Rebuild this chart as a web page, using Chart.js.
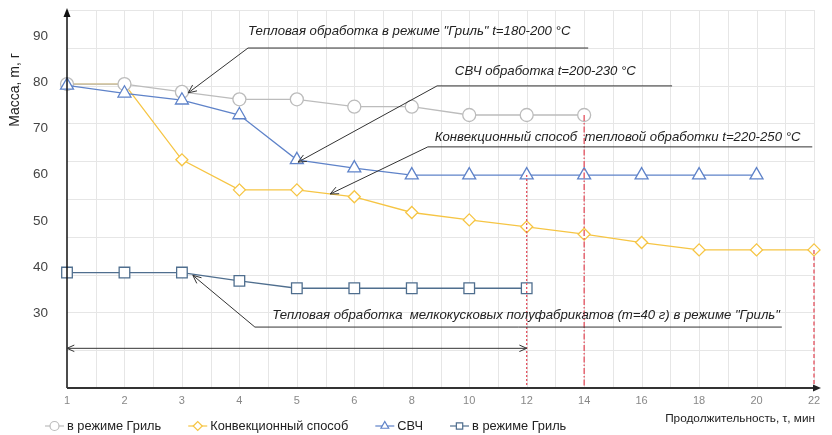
<!DOCTYPE html>
<html><head><meta charset="utf-8">
<script src="https://cdn.jsdelivr.net/npm/chart.js@4.4.1/dist/chart.umd.min.js"></script>
<style>html,body{margin:0;padding:0;background:#fff;}#wrap{width:832px;height:435px;}</style>
</head><body><div id="wrap"><canvas id="c" width="832" height="435"></canvas></div>
<script>
// ---- data ----
const categories = ['1','2','3','4','5','6','8','10','12','14','16','18','20','22'];
const grillValues = [79.6, 79.6, 77.9, 76.3, 76.3, 74.7, 74.7, 72.9, 72.9, 72.9];
const convectionValues = [79.6, 79.6, 63.2, 56.7, 56.7, 55.2, 51.8, 50.2, 48.7, 47.1, 45.3, 43.7, 43.7, 43.7];
const microwaveValues = [79.3, 77.6, 76.1, 72.9, 63.2, 61.4, 59.9, 59.9, 59.9, 59.9, 59.9, 59.9, 59.9];
const smallGrillValues = [38.8, 38.8, 38.8, 37.0, 35.4, 35.4, 35.4, 35.4, 35.4];
const seriesLabels = ['в режиме Гриль', 'Конвекционный способ', 'СВЧ', 'в режиме Гриль'];
const yTickValues = [30, 40, 50, 60, 70, 80, 90];
const yAxisTitle = 'Масса, m, г';
const xAxisTitle = 'Продолжительность, τ, мин';
const annotationTexts = [
  'Тепловая обработка в режиме "Гриль" t=180-200 °C',
  'СВЧ обработка t=200-230 °C',
  'Конвекционный способ  тепловой обработки t=220-250 °C',
  'Тепловая обработка  мелкокусковых полуфабрикатов (m=40 г) в режиме "Гриль"'
];

// ---- styles / layout ----
const colors = ['#bcbcbc', '#f6c544', '#5f83c9', '#4f6e8e'];
const styles = ['circle', 'rectRot', 'triangle', 'rect'];
const radii = [6.5, 6, 7.5, 7.5];
const annLayout = [
  {tx:3.15, ty:91.1, ly:87.4, l0:3.15, l1:9.07, px:2.11, py:77.7},
  {tx:6.75, ty:82.4, ly:79.2, l0:6.44, l1:10.53, px:4.02, py:62.7},
  {tx:6.40, ty:68.1, ly:66.0, l0:6.28, l1:12.97, px:4.58, py:55.8},
  {tx:3.57, ty:29.6, ly:27.0, l0:3.27, l1:12.44, px:2.19, py:38.2}
];
const spanArrow = {from:0, to:8, v:22.4};
const guides = [
  {index:8, value:microwaveValues[8], dash:[2,2]},
  {index:9, value:grillValues[9], dash:[6,2,1.5,2]},
  {index:13, value:convectionValues[13], dash:[4,2.5]}
];

const seriesData = [grillValues, convectionValues, microwaveValues, smallGrillValues];
const orders = [1, 2, 0, 3];
const datasets = seriesData.map((d, i) => ({
  label: seriesLabels[i], data: d,
  borderColor: colors[i], backgroundColor: '#fff',
  pointStyle: styles[i], pointRadius: radii[i], pointHoverRadius: radii[i],
  pointBackgroundColor: '#fff', pointBorderColor: colors[i],
  pointBorderWidth: 1.3, borderWidth: 1.3, tension: 0, fill: false, order: orders[i]
}));

function openHead(ctx, x0, y0, x1, y1, len) {
  const ang = Math.atan2(y1 - y0, x1 - x0);
  ctx.beginPath();
  ctx.moveTo(x1 - len * Math.cos(ang - 0.42), y1 - len * Math.sin(ang - 0.42));
  ctx.lineTo(x1, y1);
  ctx.lineTo(x1 - len * Math.cos(ang + 0.42), y1 - len * Math.sin(ang + 0.42));
  ctx.stroke();
}

const deco = {
  id: 'deco',
  beforeDatasetsDraw(chart) {
    const {ctx, chartArea: a} = chart;
    ctx.save();
    ctx.strokeStyle = '#e6e6e6'; ctx.lineWidth = 1;
    const nx = (categories.length - 1) * 2, ny = 10;
    for (let i = 1; i <= nx; i++) {
      const px = Math.round(a.left + (a.right - a.left) * i / nx) + 0.5;
      ctx.beginPath(); ctx.moveTo(px, a.top); ctx.lineTo(px, a.bottom); ctx.stroke();
    }
    for (let j = 0; j < ny; j++) {
      const py = Math.round(a.top + (a.bottom - a.top) * j / ny) + 0.5;
      ctx.beginPath(); ctx.moveTo(a.left, py); ctx.lineTo(a.right, py); ctx.stroke();
    }
    ctx.restore();
  },
  afterDatasetsDraw(chart) {
    const {ctx, chartArea: a, scales: {x, y}} = chart;
    ctx.save();
    // red guide lines
    ctx.strokeStyle = '#e4505e'; ctx.lineWidth = 1.3;
    guides.forEach(g => {
      ctx.setLineDash(g.dash);
      const px = x.getPixelForValue(g.index);
      ctx.beginPath(); ctx.moveTo(px, y.getPixelForValue(g.value)); ctx.lineTo(px, a.bottom); ctx.stroke();
    });
    ctx.setLineDash([]);
    // axes
    ctx.strokeStyle = '#111'; ctx.fillStyle = '#111'; ctx.lineWidth = 1.5;
    ctx.beginPath(); ctx.moveTo(a.left, a.bottom); ctx.lineTo(a.left, a.top + 4); ctx.stroke();
    ctx.beginPath(); ctx.moveTo(a.left, a.top - 2); ctx.lineTo(a.left - 3.5, a.top + 7); ctx.lineTo(a.left + 3.5, a.top + 7); ctx.closePath(); ctx.fill();
    ctx.strokeStyle = '#333'; ctx.fillStyle = '#222'; ctx.lineWidth = 2;
    ctx.beginPath(); ctx.moveTo(a.left, a.bottom); ctx.lineTo(a.right + 1, a.bottom); ctx.stroke();
    ctx.beginPath(); ctx.moveTo(a.right + 7, a.bottom); ctx.lineTo(a.right - 1, a.bottom - 3.5); ctx.lineTo(a.right - 1, a.bottom + 3.5); ctx.closePath(); ctx.fill();
    // annotations
    ctx.strokeStyle = '#333'; ctx.lineWidth = 1;
    ctx.fillStyle = '#222';
    ctx.font = 'italic 13.2px "Liberation Sans", Arial, sans-serif';
    ctx.textBaseline = 'middle'; ctx.textAlign = 'left';
    annLayout.forEach((an, i) => {
      const tx = x.getPixelForValue(an.tx), ty = y.getPixelForValue(an.ty);
      ctx.fillText(annotationTexts[i], tx, ty);
      const ly = y.getPixelForValue(an.ly);
      const l0 = x.getPixelForValue(an.l0), l1 = x.getPixelForValue(an.l1);
      ctx.beginPath(); ctx.moveTo(l1, ly); ctx.lineTo(l0, ly);
      const px = x.getPixelForValue(an.px), py = y.getPixelForValue(an.py);
      ctx.lineTo(px, py); ctx.stroke();
      openHead(ctx, l0, ly, px, py, 9);
    });
    // span arrow
    const sy = y.getPixelForValue(spanArrow.v);
    const s0 = x.getPixelForValue(spanArrow.from), s1 = x.getPixelForValue(spanArrow.to);
    ctx.beginPath(); ctx.moveTo(s0, sy); ctx.lineTo(s1, sy); ctx.stroke();
    openHead(ctx, s1, sy, s0, sy, 8);
    openHead(ctx, s0, sy, s1, sy, 8);
    // axis titles
    ctx.font = '14px "Liberation Sans", Arial, sans-serif';
    ctx.fillStyle = '#222'; ctx.textAlign = 'center';
    ctx.save(); ctx.translate(15, 90); ctx.rotate(-Math.PI / 2); ctx.fillText(yAxisTitle, 0, 0); ctx.restore();
    ctx.font = '11.8px "Liberation Sans", Arial, sans-serif';
    ctx.textAlign = 'right';
    ctx.fillText(xAxisTitle, 815, 419);
    // legend
    ctx.font = '12.8px "Liberation Sans", Arial, sans-serif';
    ctx.textAlign = 'left';
    let lx = 45; const lyy = 426;
    chart.data.datasets.forEach((ds, i) => {
      ctx.strokeStyle = ds.borderColor; ctx.lineWidth = 1.2;
      ctx.beginPath(); ctx.moveTo(lx, lyy); ctx.lineTo(lx + 19, lyy); ctx.stroke();
      ctx.fillStyle = '#fff';
      Chart.helpers.drawPoint(ctx, {pointStyle: ds.pointStyle, radius: 4.5, rotation: 0, borderWidth: 1.2}, lx + 9.5, lyy);
      ctx.fillStyle = '#222';
      ctx.fillText(ds.label, lx + 22, lyy);
      lx += 22 + ctx.measureText(ds.label).width + 27;
    });
    ctx.restore();
  }
};

new Chart(document.getElementById('c'), {
  type: 'line',
  data: {labels: categories, datasets: datasets},
  options: {
    responsive: false, animation: false, devicePixelRatio: 1,
    layout: {padding: {top: 10, right: 18, left: 0, bottom: 0}},
    plugins: {legend: {display: false}, tooltip: {enabled: false}},
    scales: {
      x: {
        type: 'category', offset: false, position: 'bottom',
        grid: {display: false, drawTicks: false}, border: {display: false},
        ticks: {color: '#888', font: {size: 11, family: '"Liberation Sans", Arial'}, padding: 6, maxRotation: 0, autoSkip: false},
        afterFit(s) { s.height = 47; s.paddingLeft = 0; s.paddingRight = 0; }
      },
      y: {
        type: 'linear', min: 13.81, max: 95.63, position: 'left',
        grid: {display: false, drawTicks: false}, border: {display: false},
        ticks: {color: '#444', font: {size: 13.5, family: '"Liberation Sans", Arial'}, padding: 19},
        afterBuildTicks(s) { s.ticks = yTickValues.map(v => ({value: v})); },
        afterFit(s) { s.width = 67; s.paddingTop = 0; s.paddingBottom = 0; }
      }
    }
  },
  plugins: [deco]
});
</script>
</body></html>
